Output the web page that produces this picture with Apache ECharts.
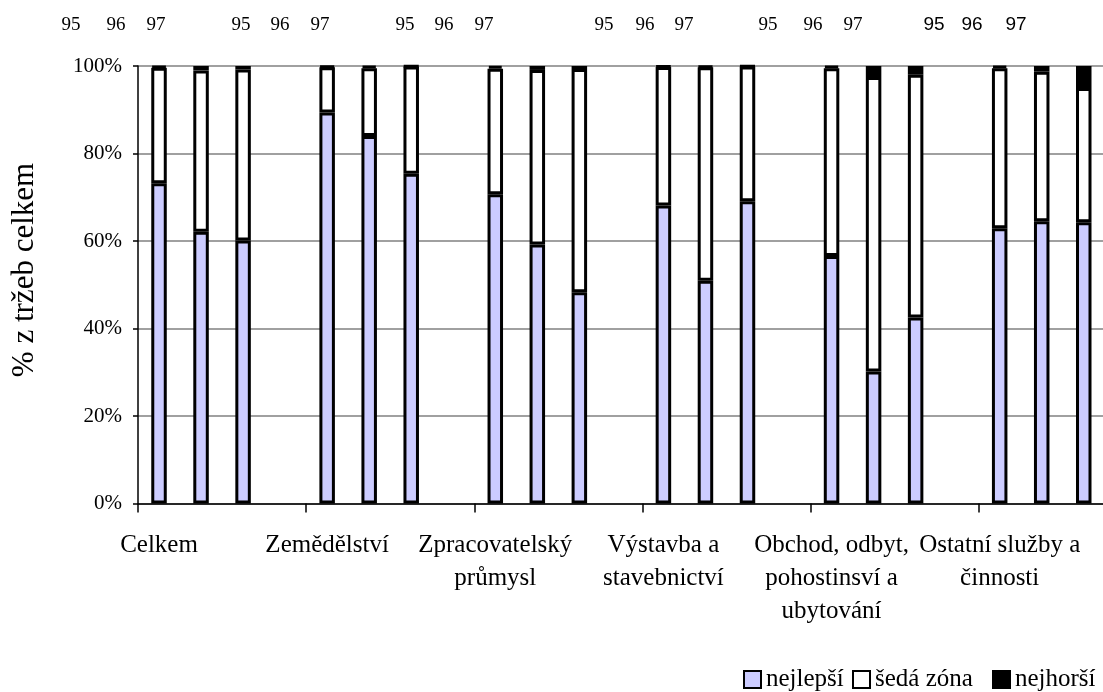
<!DOCTYPE html>
<html>
<head>
<meta charset="utf-8">
<script src="https://cdn.jsdelivr.net/npm/echarts@6/dist/echarts.min.js"></script>
<style>
html,body{margin:0;padding:0;background:#fff;}
#chart{width:1103px;height:692px;}
</style>
</head>
<body>
<div id="chart"></div>
<script>
// ---- data ----
var sectors = ['Celkem', 'Zemědělství', 'Zpracovatelský\nprůmysl', 'Výstavba a\nstavebnictví',
  'Obchod, odbyt,\npohostinsví a\nubytování', 'Ostatní služby a\nčinnosti'];
var years = ['95', '96', '97'];
var seriesNames = ['nejlepší', 'šedá zóna', 'nejhorší'];
var yTitle = '% z tržeb celkem';
// values per sector, for years 95, 96, 97 (% of total revenue)
var nejlepsi = [
  [73.2, 62.1, 60.1],
  [89.4, 84.0, 75.4],
  [70.7, 59.2, 48.3],
  [68.1, 50.9, 69.1],
  [56.6, 30.2, 42.5],
  [62.9, 64.5, 64.3]
];
var nejhorsi = [
  [0.4, 1.0, 0.8],
  [0.3, 0.5, 0.1],
  [0.6, 0.9, 0.7],
  [0.2, 0.3, 0.1],
  [0.5, 2.5, 2.0],
  [0.5, 1.3, 5.0]
];

// ---- build 24-slot category axis (3 years + 1 gap per sector) ----
var cats = [], best = [], grey = [], worst = [];
sectors.forEach(function (s, i) {
  for (var k = 0; k < 4; k++) {
    cats.push(k === 0 ? s : (k < 3 ? ' '.repeat(k) : '  ' + i));
    if (k < 3) {
      var b = nejlepsi[i][k], w = nejhorsi[i][k];
      best.push(b);
      worst.push(w);
      grey.push(+(100 - b - w).toFixed(2));
    } else {
      best.push('-'); grey.push('-'); worst.push('-');
    }
  }
});

var serif = "'Liberation Serif','Times New Roman',serif";
var sans = "'Liberation Sans',Arial,sans-serif";

// year label text boxes at the top (placed as in the original, not aligned to bars)
var yearLabelX = [
  [71, 116, 156], [241, 280, 320], [405, 444, 484],
  [604, 645, 684], [768, 813, 853], [934, 972, 1016]
];
var graphics = [];
yearLabelX.forEach(function (row, gi) {
  row.forEach(function (x, k) {
    graphics.push({
      type: 'text', x: x, y: 25,
      style: {
        text: years[k],
        textAlign: 'center', textVerticalAlign: 'middle',
        font: (gi === 5 ? '19px ' + sans : '19px ' + serif),
        fill: '#000'
      }
    });
  });
});
graphics.push({
  type: 'text', x: 25, y: 270, rotation: Math.PI / 2,
  style: {
    text: yTitle, textAlign: 'center', textVerticalAlign: 'middle',
    font: '31px ' + serif, fill: '#000'
  }
});

var legendLeft = [743, 852, 992];
var legends = seriesNames.map(function (n, i) {
  return {
    data: [n],
    left: legendLeft[i], top: 667,
    padding: 0,
    itemWidth: 17, itemHeight: 17,
    icon: 'rect',
    textStyle: { fontFamily: serif, fontSize: 25, color: '#000', lineHeight: 25 }
  };
});

var chart = echarts.init(document.getElementById('chart'), null, {renderer: 'canvas'});
var border = { borderColor: '#000', borderWidth: 3 };
chart.setOption({
  animation: false,
  backgroundColor: '#fff',
  grid: { left: 138, top: 66, width: 1008.8, height: 437.5, containLabel: false, outerBoundsMode: 'none' },
  legend: legends,
  xAxis: {
    type: 'category',
    data: cats,
    boundaryGap: true,
    axisLine: { lineStyle: { color: '#000', width: 1.5 } },
    axisTick: {
      show: true,
      length: 9,
      lineStyle: { color: '#000', width: 1.5 },
      interval: function (i) { return i % 4 === 0; }
    },
    axisLabel: {
      interval: 0,
      margin: 25,
      fontFamily: serif, fontSize: 25, color: '#000', lineHeight: 33,
      formatter: function (v, i) { return i % 4 === 0 ? v : ''; }
    },
    splitLine: { show: false }
  },
  yAxis: {
    type: 'value',
    min: 0, max: 100, interval: 20,
    axisLine: { show: true, lineStyle: { color: '#000', width: 1.5 } },
    axisTick: { show: true, length: 5, lineStyle: { color: '#000', width: 1.5 } },
    axisLabel: {
      margin: 16,
      fontFamily: serif, fontSize: 21, color: '#000',
      formatter: '{value}%'
    },
    splitLine: { show: true, lineStyle: { color: '#808080', width: 1.5 } }
  },
  graphic: graphics,
  series: [
    {
      name: seriesNames[0], type: 'bar', stack: 'a', data: best, barWidth: 15.5,
      itemStyle: Object.assign({ color: '#CCCCFF' }, border)
    },
    {
      name: seriesNames[1], type: 'bar', stack: 'a', data: grey, barWidth: 15.5,
      itemStyle: Object.assign({ color: '#FFFFFF' }, border)
    },
    {
      name: seriesNames[2], type: 'bar', stack: 'a', data: worst, barWidth: 15.5,
      itemStyle: Object.assign({ color: '#000000' }, border)
    }
  ]
});
</script>
</body>
</html>
